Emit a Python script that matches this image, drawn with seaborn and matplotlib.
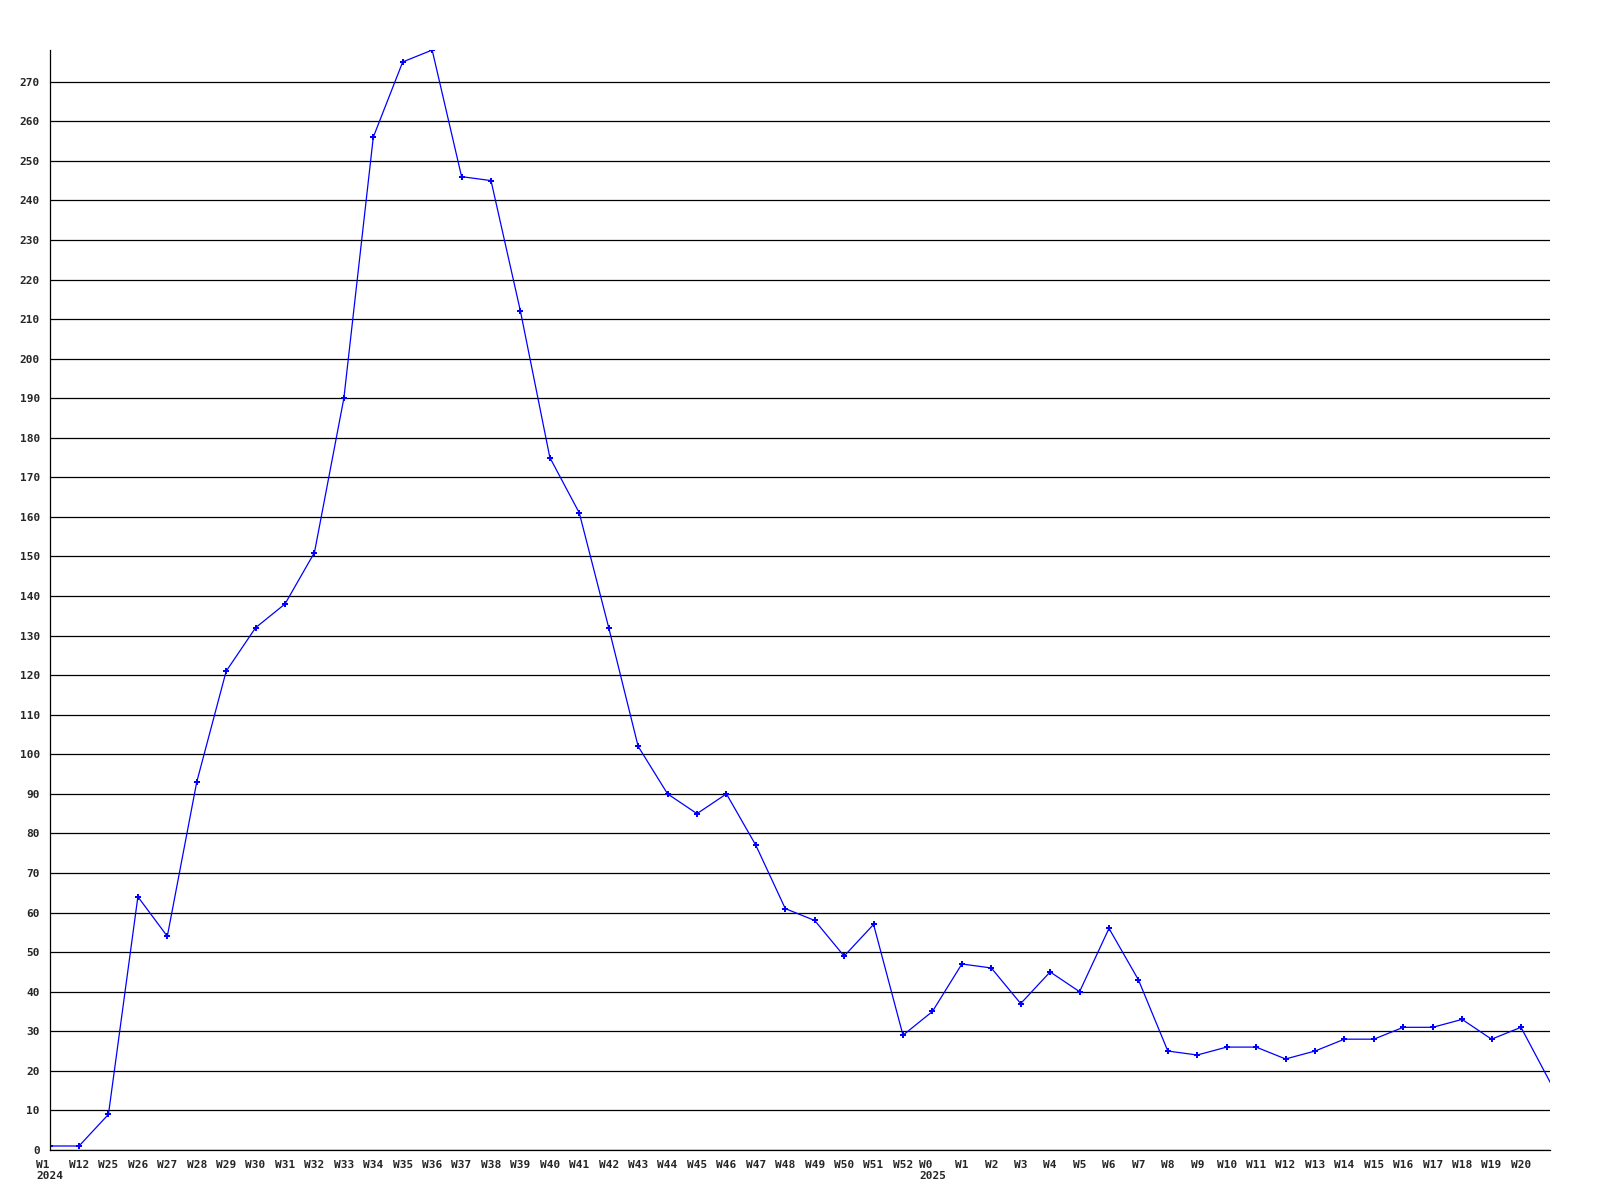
"""
Weekly counts line chart, 2024 week 1 through 2025 week 20.
"""

import numpy as np
import pandas as pd
import matplotlib
matplotlib.use('Agg')
import matplotlib.pyplot as plt
import seaborn as sns

# Week labels (the last point is drawn at the right edge, unlabelled)
weeks = (['W1', 'W12'] + [f'W{w}' for w in range(25, 53)]
         + ['W0'] + [f'W{w}' for w in range(1, 21)] + [''])
years = {0: '2024', 30: '2025'}

counts = [1, 1, 9, 64, 54, 93, 121, 132, 138, 151,
          190, 256, 275, 278, 246, 245, 212, 175, 161, 132,
          102, 90, 85, 90, 77, 61, 58, 49, 57, 29,
          35, 47, 46, 37, 45, 40, 56, 43, 25, 24,
          26, 26, 23, 25, 28, 28, 31, 31, 33, 28,
          31, 17]

df = pd.DataFrame({'pos': np.arange(len(counts)), 'count': counts})

sns.set_style('white')
plt.rcParams['font.family'] = ['DejaVu Sans Mono']

fig = plt.figure(figsize=(16, 12), dpi=100)
ax = fig.add_axes([0.031, 0.0417, 0.938, 0.9166])

# no marker on the last point, the line just runs into the edge
sns.lineplot(data=df, x='pos', y='count', ax=ax, color='#0000ff',
             linewidth=0.9, marker='P', markersize=4.5, markeredgewidth=0,
             markevery=list(range(len(counts) - 1)))

ax.set_xlim(0, len(counts) - 1)
ax.set_ylim(0, 278)
ax.set_yticks(range(0, 271, 10))
ax.set_yticklabels([str(v) for v in range(0, 271, 10)],
                   fontsize=8, fontweight='bold')

labels = [w + ('\n' + years[i] if i in years else '') for i, w in enumerate(weeks)]
ax.set_xticks(df['pos'])
ax.set_xticklabels(labels, fontsize=8, fontweight='bold')
for lab in ax.get_xticklabels():
    lab.set_multialignment('left')

ax.tick_params(axis='both', length=0, pad=7)
ax.set_xlabel('')
ax.set_ylabel('')

ax.yaxis.grid(True, color='black', linewidth=0.9)
ax.xaxis.grid(False)
ax.set_axisbelow(True)
for side in ['top', 'right']:
    ax.spines[side].set_visible(False)
for side in ['left', 'bottom']:
    ax.spines[side].set_color('black')
    ax.spines[side].set_linewidth(0.9)

fig.savefig('out.png', dpi=100)
